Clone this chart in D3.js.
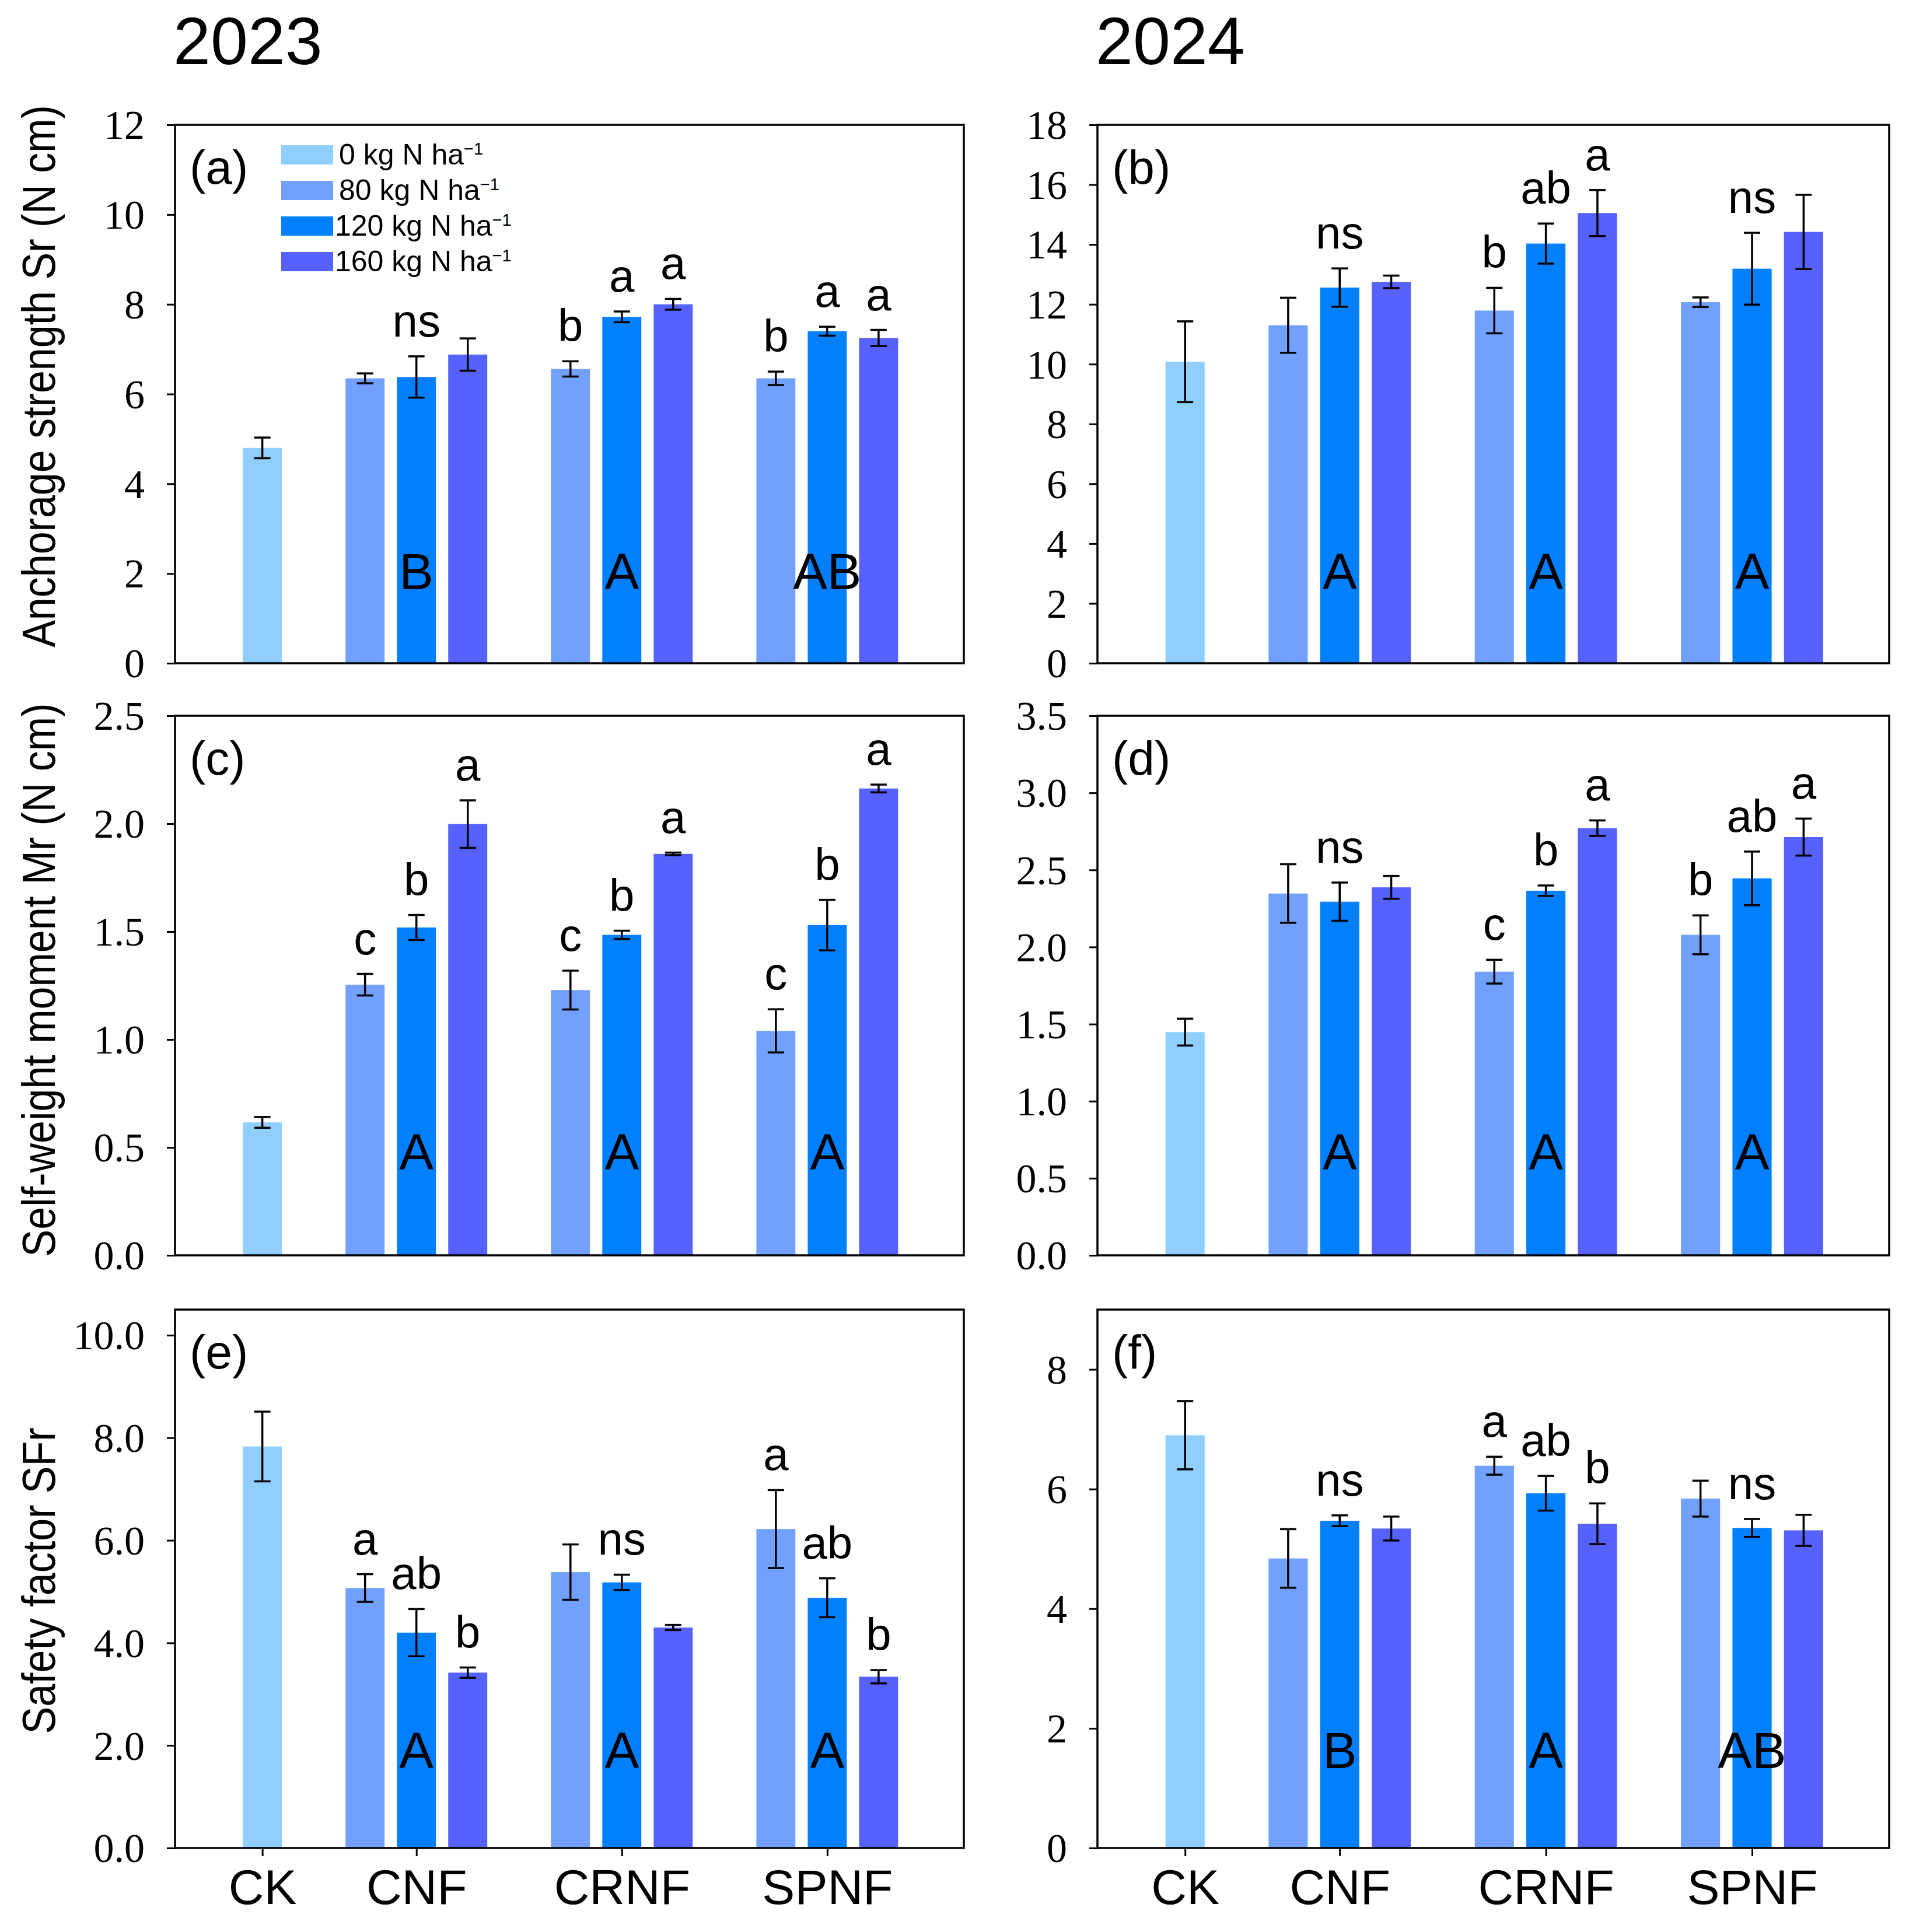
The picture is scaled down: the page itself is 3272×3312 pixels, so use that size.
<!DOCTYPE html>
<html>
<head>
<meta charset="utf-8">
<script src="https://cdn.jsdelivr.net/npm/d3@7"></script>
<style>
	body { margin: 0; background: #fff; }
	svg { display: block; }
	.tick-y text { font-family: 'Liberation Serif', 'Times New Roman', serif !important; }
</style>
</head>
<body>
<div id="chart"></div>
<script>
// treatments and N rates
const groups = ['CK', 'CNF', 'CRNF', 'SPNF'];
const rates = ['0', '80', '120', '160'];
const years = ['2023', '2024'];

// one entry per bar: CK, CNF 80/120/160, CRNF 80/120/160, SPNF 80/120/160
const barGroup = [0, 1, 1, 1, 2, 2, 2, 3, 3, 3];
const barRate = [0, 1, 2, 3, 1, 2, 3, 1, 2, 3];

// anchorage strength Sr (N cm)
const srMean2023 = [4.80, 6.35, 6.38, 6.88, 6.56, 7.72, 8.00, 6.35, 7.40, 7.25];
const srErr2023 = [0.23, 0.11, 0.46, 0.36, 0.17, 0.12, 0.12, 0.15, 0.10, 0.18];
const srMean2024 = [10.08, 11.30, 12.56, 12.75, 11.79, 14.03, 15.05, 12.07, 13.19, 14.42];
const srErr2024 = [1.35, 0.92, 0.64, 0.21, 0.76, 0.67, 0.77, 0.16, 1.20, 1.24];

// self-weight moment Mr (N cm)
const mrMean2023 = [0.616, 1.254, 1.519, 1.998, 1.229, 1.485, 1.860, 1.040, 1.530, 2.163];
const mrErr2023 = [0.025, 0.050, 0.058, 0.110, 0.090, 0.019, 0.006, 0.100, 0.117, 0.018];
const mrMean2024 = [1.448, 2.347, 2.294, 2.387, 1.840, 2.365, 2.771, 2.079, 2.445, 2.713];
const mrErr2024 = [0.087, 0.190, 0.124, 0.074, 0.077, 0.034, 0.050, 0.126, 0.174, 0.120];

// safety factor SFr
const sfMean2023 = [7.83, 5.07, 4.20, 3.42, 5.38, 5.18, 4.30, 6.22, 4.88, 3.34];
const sfErr2023 = [0.68, 0.27, 0.46, 0.10, 0.54, 0.15, 0.05, 0.76, 0.38, 0.13];
const sfMean2024 = [6.90, 4.84, 5.47, 5.34, 6.39, 5.93, 5.42, 5.84, 5.35, 5.31];
const sfErr2024 = [0.57, 0.49, 0.09, 0.20, 0.15, 0.29, 0.34, 0.30, 0.15, 0.26];

// significance letters, per bar (lower case) and per fertiliser type (upper case)
const lowA = ['', '', 'ns', '', 'b', 'a', 'a', 'b', 'a', 'a'];
const lowB = ['', '', 'ns', '', 'b', 'ab', 'a', '', 'ns', ''];
const lowC = ['', 'c', 'b', 'a', 'c', 'b', 'a', 'c', 'b', 'a'];
const lowD = ['', '', 'ns', '', 'c', 'b', 'a', 'b', 'ab', 'a'];
const lowE = ['', 'a', 'ab', 'b', '', 'ns', '', 'a', 'ab', 'b'];
const lowF = ['', '', 'ns', '', 'a', 'ab', 'b', '', 'ns', ''];
const capA = ['B', 'A', 'AB'];
const capB = ['A', 'A', 'A'];
const capC = ['A', 'A', 'A'];
const capD = ['A', 'A', 'A'];
const capE = ['A', 'A', 'A'];
const capF = ['B', 'A', 'AB'];

// y axis ticks
const ticksSr2023 = [0, 2, 4, 6, 8, 10, 12];
const ticksSr2024 = [0, 2, 4, 6, 8, 10, 12, 14, 16, 18];
const ticksMr2023 = [0, 0.5, 1.0, 1.5, 2.0, 2.5];
const ticksMr2024 = [0, 0.5, 1.0, 1.5, 2.0, 2.5, 3.0, 3.5];
const ticksSf2023 = [0, 2, 4, 6, 8, 10];
const ticksSf2024 = [0, 2, 4, 6, 8];

const rowTitles = ['Anchorage strength Sr (N cm)', 'Self-weight moment Mr (N cm)', 'Safety factor SFr'];

const colors = ['#8fcfff', '#72a0ff', '#0080ff', '#5562ff'];

// layout
const W = 3272, H = 3312;
const cols = [{ x0: 300, x1: 1652 }, { x0: 1881, x1: 3238 }];
const rows = [{ y0: 214, y1: 1137, capOff: 127, titleY: 645 },
	{ y0: 1227, y1: 2152, capOff: 147, titleY: 1680 },
	{ y0: 2245, y1: 3168, capOff: 137, titleY: 2710 }];

const panels = [
	{ tag: '(a)', col: 0, row: 0, mean: srMean2023, err: srErr2023, low: lowA, cap: capA, ymax: 12, ticks: ticksSr2023, fmt: d3.format('d') },
	{ tag: '(b)', col: 1, row: 0, mean: srMean2024, err: srErr2024, low: lowB, cap: capB, ymax: 18, ticks: ticksSr2024, fmt: d3.format('d') },
	{ tag: '(c)', col: 0, row: 1, mean: mrMean2023, err: mrErr2023, low: lowC, cap: capC, ymax: 2.5, ticks: ticksMr2023, fmt: d3.format('.1f') },
	{ tag: '(d)', col: 1, row: 1, mean: mrMean2024, err: mrErr2024, low: lowD, cap: capD, ymax: 3.5, ticks: ticksMr2024, fmt: d3.format('.1f') },
	{ tag: '(e)', col: 0, row: 2, mean: sfMean2023, err: sfErr2023, low: lowE, cap: capE, ymax: 10.5, ticks: ticksSf2023, fmt: d3.format('.1f') },
	{ tag: '(f)', col: 1, row: 2, mean: sfMean2024, err: sfErr2024, low: lowF, cap: capF, ymax: 9, ticks: ticksSf2024, fmt: d3.format('d') },
];

const sans = "'Liberation Sans', Arial, sans-serif";

// bar slot on the x axis: CK alone, then groups of three with a gap
const slotOf = (g, r) => g === 0 ? 0 : 4 * g - 3 + r;
const groupSlot = g => g === 0 ? 0 : 4 * g - 1;

const svg = d3.select('#chart').append('svg')
	.attr('width', W).attr('height', H)
	.attr('viewBox', `0 0 ${W} ${H}`);

svg.append('rect').attr('width', W).attr('height', H).attr('fill', '#fff');

// year headings
svg.selectAll('.year')
	.data(years)
	.join('text')
	.attr('class', 'year')
	.attr('x', (d, i) => cols[i].x0 - 3)
	.attr('y', 110)
	.attr('font-family', sans)
	.attr('font-size', 115)
	.text(d => d);

// row titles
svg.selectAll('.row-title')
	.data(rowTitles)
	.join('text')
	.attr('class', 'row-title')
	.attr('text-anchor', 'middle')
	.attr('transform', (d, i) => `translate(94, ${rows[i].titleY}) rotate(-90) scale(0.875, 1)`)
	.attr('font-family', sans)
	.attr('font-size', 80)
	.text(d => d);

panels.forEach(p => {
	const c = cols[p.col], r = rows[p.row];

	const x = d3.scaleLinear().domain([-1.7, 13.66]).range([c.x0, c.x1]);
	const y = d3.scaleLinear().domain([0, p.ymax]).range([r.y1, r.y0]);
	const slotW = x(1) - x(0);
	const barW = slotW * 0.76;

	const g = svg.append('g').attr('class', 'panel');

	const bars = p.mean.map((m, i) => ({
		m, e: p.err[i], g: barGroup[i], r: barRate[i], low: p.low[i],
		cx: x(slotOf(barGroup[i], barRate[i]))
	}));

	// bars
	g.selectAll('.bar')
		.data(bars)
		.join('rect')
		.attr('class', 'bar')
		.attr('x', d => d.cx - barW / 2)
		.attr('width', barW)
		.attr('y', d => y(d.m))
		.attr('height', d => y(0) - y(d.m))
		.attr('fill', d => colors[d.r]);

	// error bars
	const eb = g.selectAll('.err')
		.data(bars)
		.join('g')
		.attr('class', 'err')
		.attr('stroke', '#000')
		.attr('stroke-width', 3.5);
	eb.append('line')
		.attr('x1', d => d.cx).attr('x2', d => d.cx)
		.attr('y1', d => y(d.m + d.e)).attr('y2', d => y(d.m - d.e));
	eb.append('line')
		.attr('x1', d => d.cx - 14).attr('x2', d => d.cx + 14)
		.attr('y1', d => y(d.m + d.e)).attr('y2', d => y(d.m + d.e));
	eb.append('line')
		.attr('x1', d => d.cx - 14).attr('x2', d => d.cx + 14)
		.attr('y1', d => y(d.m - d.e)).attr('y2', d => y(d.m - d.e));

	// lower-case letters above the error bars
	g.selectAll('.low')
		.data(bars.filter(d => d.low))
		.join('text')
		.attr('class', 'low')
		.attr('text-anchor', 'middle')
		.attr('x', d => d.cx)
		.attr('y', d => y(d.m + d.e) - 34)
		.attr('font-family', sans)
		.attr('font-size', 78)
		.text(d => d.low);

	// upper-case letters per fertiliser type
	g.selectAll('.cap')
		.data(p.cap)
		.join('text')
		.attr('class', 'cap')
		.attr('text-anchor', 'middle')
		.attr('x', (d, i) => x(groupSlot(i + 1)))
		.attr('y', r.y1 - r.capOff)
		.attr('font-family', sans)
		.attr('font-size', 88)
		.text(d => d);

	// y axis
	const yAxis = d3.axisLeft(y).tickValues(p.ticks).tickFormat(p.fmt).tickSize(14).tickSizeOuter(0);
	const yAxisG = g.append('g')
		.attr('class', 'tick-y')
		.attr('transform', `translate(${c.x0}, 0)`)
		.call(yAxis)
		.attr('font-family', null);
	yAxisG.select('.domain').remove();
	yAxisG.selectAll('line').attr('stroke-width', 3);
	yAxisG.selectAll('text')
		.attr('x', -52)
		.attr('dy', '0.34em')
		.attr('font-size', 70)
		.attr('fill', '#000');

	// x axis only on the bottom row
	if (p.row === 2) {
		const xAxis = d3.axisBottom(x)
			.tickValues(groups.map((d, i) => groupSlot(i)))
			.tickFormat((d, i) => groups[i])
			.tickSize(14).tickSizeOuter(0);
		const xAxisG = g.append('g').attr('transform', `translate(0, ${r.y1})`).call(xAxis);
		xAxisG.select('.domain').remove();
		xAxisG.selectAll('line').attr('stroke-width', 3);
		xAxisG.selectAll('text')
			.attr('y', 96)
			.attr('dy', 0)
			.attr('font-family', sans)
			.attr('font-size', 84)
			.attr('fill', '#000');
	}

	// frame
	g.append('rect')
		.attr('x', c.x0).attr('y', r.y0)
		.attr('width', c.x1 - c.x0).attr('height', r.y1 - r.y0)
		.attr('fill', 'none')
		.attr('stroke', '#000')
		.attr('stroke-width', 3.5);

	// panel tag
	g.append('text')
		.attr('x', c.x0 + 25)
		.attr('y', r.y0 + 101)
		.attr('font-family', sans)
		.attr('font-size', 82)
		.text(p.tag);

	// legend in the first panel
	if (p.tag === '(a)') {
		const leg = g.selectAll('.legend')
			.data(rates)
			.join('g')
			.attr('class', 'legend')
			.attr('transform', (d, i) => `translate(482, ${249 + i * 61})`);
		leg.append('rect')
			.attr('width', 89).attr('height', 33)
			.attr('fill', (d, i) => colors[i]);
		const lt = leg.append('text')
			.attr('x', d => d.length > 2 ? 92 : 99)
			.attr('y', 33)
			.attr('font-family', sans)
			.attr('font-size', 50);
		lt.append('tspan').text(d => `${d} kg N ha`);
		lt.append('tspan').attr('dy', -17).attr('font-size', 29).text('\u22121');
	}
});
</script>
</body>
</html>
